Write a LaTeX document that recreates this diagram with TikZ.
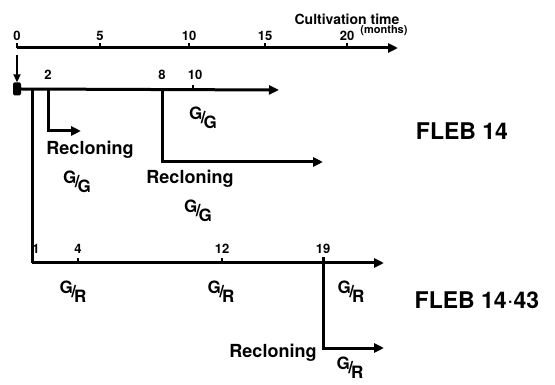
\documentclass[tikz,border=0pt]{standalone}
\usepackage{fontspec}
\setmainfont{TeX Gyre Heros}
\usetikzlibrary{arrows.meta}
\newcommand{\gfrac}[2]{\raisebox{4pt}{#1}\kern-1.5pt/\kern-2pt\raisebox{-5pt}{#2}}
\begin{document}
\begin{tikzpicture}[x=1pt,y=-1pt,
  line/.style={line width=3pt},
  arr/.style={line width=3pt,-{Triangle[length=10pt,width=9pt]}},
  tick/.style={line width=1.6pt},
  num/.style={font=\bfseries\fontsize{13}{13}\selectfont,inner sep=0pt},
  lab/.style={font=\bfseries\fontsize{18}{18}\selectfont,inner sep=0pt},
  frac/.style={font=\bfseries\fontsize{17}{17}\selectfont,inner sep=0pt},
  big/.style={font=\bfseries\fontsize{23}{23}\selectfont,inner sep=0pt}]
\useasboundingbox (0,0) rectangle (555,385);
% top time axis
\coordinate (a0) at (17,48);
\coordinate (aE) at (398,48);
\draw[arr] (a0) -- (aE);
\foreach \x/\t/\n in {17/0/t0,100/5/t5,189/10/t10,265/15/t15,347/20/t20}{
  \coordinate (\n) at (\x,48);
  \draw[tick] (\n) -- ++(0,-5);
  \node[num] (l\n) at (\x,36) {\t};
}
\node[font=\bfseries\fontsize{14}{14}\selectfont,inner sep=0pt] (ct) at (347,19) {Cultivation time};
\node[font=\bfseries\fontsize{11}{11}\selectfont,inner sep=0pt] (mo) at (384,31) {(months)};
% start arrow and square
\coordinate (s0) at (17,55);
\node[fill=black,rounded corners=1.5pt,minimum width=8pt,minimum height=13pt,inner sep=0pt] (sq) at (17,89) {};
\draw[line width=2pt,-{Triangle[length=8pt,width=7pt]}] (s0) -- (sq.north);
% FLEB 14 line
\coordinate (f1) at (32,90);
\coordinate (f2) at (48,90);
\coordinate (f8) at (162,90);
\coordinate (f10) at (193,90);
\coordinate (fE) at (279,90);
\draw[arr] (sq.east) -- (fE);
\draw[tick] (f10) -- ++(0,-5);
\node[num] (n2) at (48,75) {2};
\node[num] (n8) at (162,75) {8};
\node[num] (n10) at (195,75) {10};
\coordinate (r1E) at (81,131);
\draw[arr] (f2) |- (r1E);
\coordinate (r2E) at (323,162);
\draw[arr] (f8) |- (r2E);
\node[frac] (g1) at (203,118) {\gfrac{G}{G}};
\node[lab] (rc1) at (90,150) {Recloning};
\node[frac] (g2) at (77,182) {\gfrac{G}{G}};
\node[lab] (rc2) at (190,179) {Recloning};
\node[frac] (g3) at (198,211) {\gfrac{G}{G}};
\node[big] (fl1) at (462,131) {FLEB 14};
% FLEB 14.43 line
\coordinate (b1) at (32,263);
\coordinate (b4) at (78,263);
\coordinate (b12) at (222,263);
\coordinate (b19) at (323,257);
\coordinate (bE) at (384,263);
\draw[line] (f1) -- (b1);
\draw[arr] (b1) -- (bE);
\draw[tick] (b4) -- ++(0,-5);
\draw[tick] (b12) -- ++(0,-5);
\node[num] (m1) at (36,249) {1};
\node[num] (m4) at (78,249) {4};
\node[num] (m12) at (222,249) {12};
\node[num] (m19) at (323,249) {19};
\coordinate (r3E) at (384,348);
\draw[arr] (b19) |- (r3E);
\node[frac] (h1) at (73,292) {\gfrac{G}{R}};
\node[frac] (h2) at (221,292) {\gfrac{G}{R}};
\node[frac] (h3) at (351,292) {\gfrac{G}{R}};
\node[lab] (rc3) at (273,353) {Recloning};
\node[frac] (h4) at (350,368) {\gfrac{G}{R}};
\node[big] (fl2) at (477,300) {FLEB 14$\cdot$43};
\end{tikzpicture}
\end{document}
